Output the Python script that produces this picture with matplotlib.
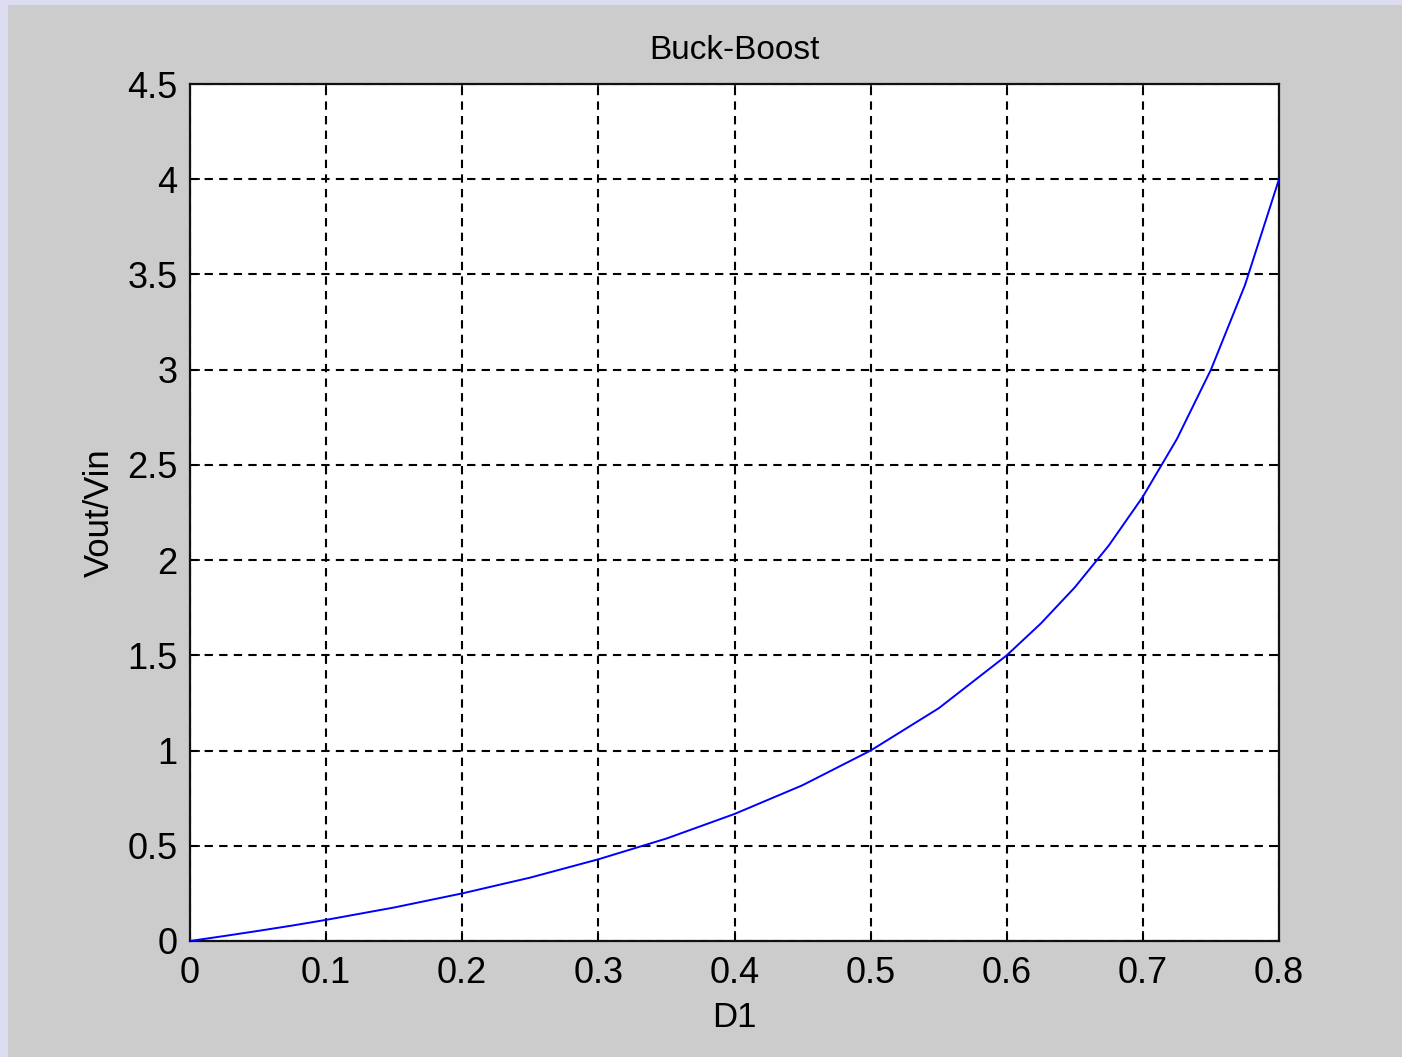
import matplotlib
matplotlib.use("Agg")
import matplotlib.pyplot as plt
from matplotlib.patches import Rectangle

plt.rcParams["font.family"] = ["Liberation Sans Narrow", "Liberation Sans", "DejaVu Sans"]

# Valores (D1 vs Vout/Vin)
d1 = [0.0, 0.025, 0.05, 0.075, 0.1, 0.15, 0.2, 0.25, 0.3, 0.35, 0.4, 0.45, 0.5,
      0.55, 0.6, 0.625, 0.65, 0.675, 0.7, 0.725, 0.75, 0.775, 0.8]
ganancia = [0.0, 0.026, 0.053, 0.081, 0.111, 0.176, 0.25, 0.333, 0.429, 0.538,
            0.667, 0.818, 1.0, 1.222, 1.5, 1.667, 1.857, 2.077, 2.333, 2.636,
            3.0, 3.444, 4.0]

xticks = [0, 0.1, 0.2, 0.3, 0.4, 0.5, 0.6, 0.7, 0.8]
yticks = [0, 0.5, 1, 1.5, 2, 2.5, 3, 3.5, 4, 4.5]

W, H = 1402, 1057
fig = plt.figure(figsize=(W / 100, H / 100), dpi=100, facecolor="#dcdcf0")

# panel gris estilo ventana de figura (detrás de los ejes)
fig.patches.append(Rectangle((8 / W, 0), 1 - 8 / W, (H - 5) / H,
                             transform=fig.transFigure, facecolor="#cccccc",
                             edgecolor="none", zorder=-10))

ax = fig.add_axes([190 / W, (H - 941) / H, (1279 - 190) / W, (941 - 84) / H])
ax.set_facecolor("white")
ax.plot(d1, ganancia, color="#0000ff", linewidth=1.4, zorder=3)

ax.set_xlim(0, 0.8)
ax.set_ylim(0, 4.5)
ax.set_xticks(xticks)
ax.set_yticks(yticks)
ax.set_xticklabels([f"{t:g}" for t in xticks])
ax.set_yticklabels([f"{t:g}" for t in yticks])
ax.tick_params(direction="in", top=True, right=True, length=7, width=1.2,
               labelsize=26, colors="black")
ax.tick_params(axis="x", pad=11)
ax.tick_params(axis="y", pad=9)
ax.grid(True, color="black", linestyle=(0, (4, 3)), linewidth=1.5)
for s in ax.spines.values():
    s.set_linewidth(1.6)
    s.set_color("#111111")

ax.set_title("Buck-Boost", fontsize=24, pad=18)
ax.set_xlabel("D1", fontsize=25, labelpad=7)
ax.set_ylabel("Vout/Vin", fontsize=25, labelpad=8)

fig.savefig("out.png", dpi=100, facecolor=fig.get_facecolor())
